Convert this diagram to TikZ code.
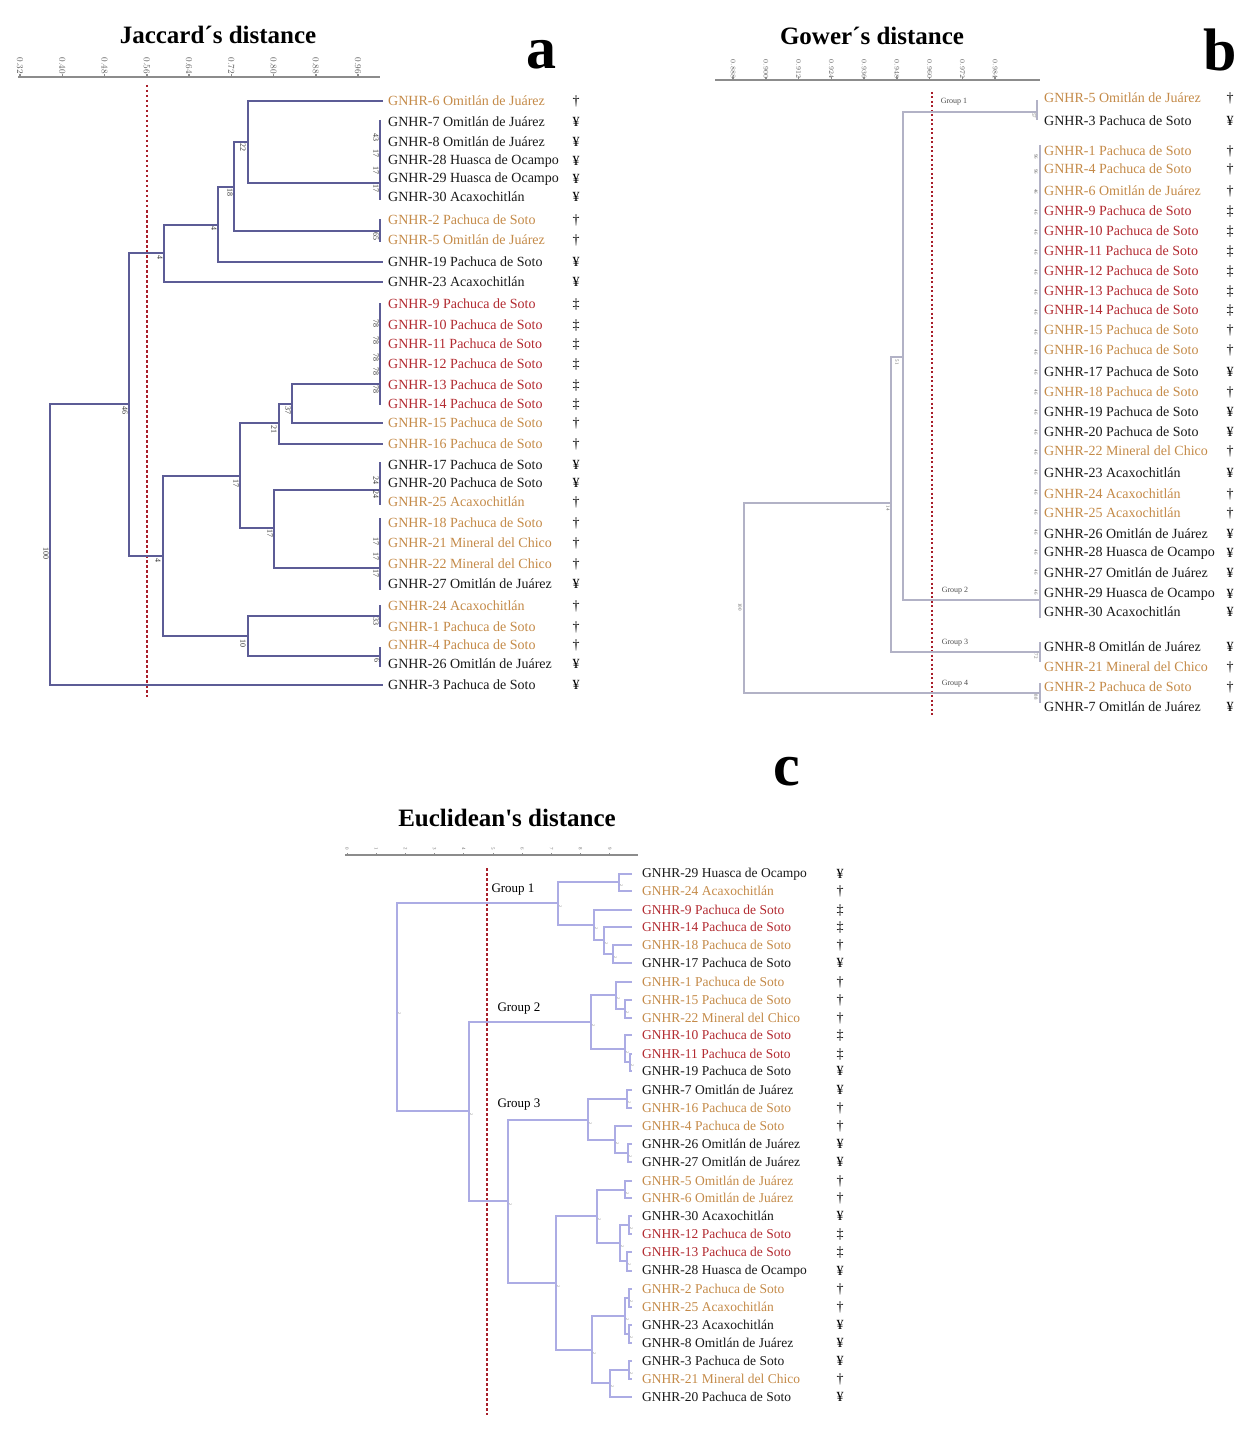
\documentclass[tikz,border=0pt]{standalone}
\usepackage{fontspec}
\setmainfont{Liberation Serif}
\definecolor{tanc}{RGB}{196,138,72}
\definecolor{redc}{RGB}{178,42,48}
\definecolor{blkc}{RGB}{25,25,25}
\definecolor{linea}{RGB}{92,92,150}
\definecolor{lineb}{RGB}{178,178,198}
\definecolor{linec}{RGB}{172,172,228}
\definecolor{cutc}{RGB}{168,30,42}
\definecolor{axisc}{RGB}{140,140,140}
\tikzset{
  leafa/.style={anchor=west, inner xsep=5pt, inner ysep=0pt, font=\fontsize{14}{16}\selectfont},
  leafb/.style={anchor=west, inner xsep=4pt, inner ysep=0pt, font=\fontsize{14}{16}\selectfont},
  leafc/.style={anchor=west, inner xsep=10pt, inner ysep=0pt, font=\fontsize{13.5}{15}\selectfont},
  symb/.style={inner sep=0pt, font=\fontsize{14}{16}\selectfont},
  boota/.style={rotate=-90, inner sep=0pt, text=black!80, font=\fontsize{8}{8}\selectfont},
  bootb/.style={rotate=-90, inner sep=0pt, text=black!60, font=\fontsize{5}{5}\selectfont},
  bootc/.style={rotate=-90, inner sep=0pt, text=black!50, font=\fontsize{4}{4}\selectfont},
  ticka/.style={rotate=-90, inner sep=0pt, text=black!65, font=\fontsize{9}{9}\selectfont},
  tickb/.style={rotate=-90, inner sep=0pt, text=black!65, font=\fontsize{7}{7}\selectfont},
  tickc/.style={rotate=-90, inner sep=0pt, text=black!55, font=\fontsize{5}{5}\selectfont},
  brancha/.style={linea, line width=1.2pt},
  branchb/.style={lineb, line width=1.2pt},
  branchc/.style={linec, line width=1.2pt},
  cutline/.style={cutc, line width=1.8pt, dash pattern=on 2.5pt off 2.5pt},
  axisline/.style={axisc, line width=1.5pt},
  ttl/.style={font=\fontsize{25}{28}\selectfont\bfseries},
  panelltr/.style={font=\fontsize{60}{60}\selectfont\bfseries},
  grpb/.style={inner sep=0pt, text=black!70, font=\fontsize{8}{8}\selectfont},
  grpc/.style={inner sep=0pt, font=\fontsize{13}{13}\selectfont}
}
\begin{document}
\begin{tikzpicture}[x=1pt,y=-1pt]
\useasboundingbox (0,0) rectangle (1257,1442);
% panel a
\node[ttl] (ttla) at (218,35) {Jaccard´s distance};
\node[panelltr] (lta) at (541,55) {a};
\draw[axisline] (18,77) -- (380,77);
\foreach \i in {0,...,8} {
  \pgfmathsetmacro\xx{20+42.25*\i}
  \pgfmathsetmacro\vv{0.32+0.08*\i}
  \node[ticka] (tka\i) at (\xx,66) {\pgfmathprintnumber[fixed,precision=2,fixed zerofill]{\vv}};
  \draw[axisline] (\xx,74) -- (\xx,77);
}
\draw[cutline] (147,85) -- (147,697);
\foreach \y/\nm/\txt/\col/\sym in {
  101/a6/{GNHR-6 Omitlán de Juárez}/tanc/†, 122/a7/{GNHR-7 Omitlán de Juárez}/blkc/¥,
  142/a8/{GNHR-8 Omitlán de Juárez}/blkc/¥, 161/a28/{GNHR-28 Huasca de Ocampo}/blkc/¥,
  179/a29/{GNHR-29 Huasca de Ocampo}/blkc/¥, 197/a30/{GNHR-30 Acaxochitlán}/blkc/¥,
  220/a2/{GNHR-2 Pachuca de Soto}/tanc/†, 240/a5/{GNHR-5 Omitlán de Juárez}/tanc/†,
  262/a19/{GNHR-19 Pachuca de Soto}/blkc/¥, 282/a23/{GNHR-23 Acaxochitlán}/blkc/¥,
  304/a9/{GNHR-9 Pachuca de Soto}/redc/‡, 325/a10/{GNHR-10 Pachuca de Soto}/redc/‡,
  344/a11/{GNHR-11 Pachuca de Soto}/redc/‡, 364/a12/{GNHR-12 Pachuca de Soto}/redc/‡,
  385/a13/{GNHR-13 Pachuca de Soto}/redc/‡, 404/a14/{GNHR-14 Pachuca de Soto}/redc/‡,
  423/a15/{GNHR-15 Pachuca de Soto}/tanc/†, 444/a16/{GNHR-16 Pachuca de Soto}/tanc/†,
  465/a17/{GNHR-17 Pachuca de Soto}/blkc/¥, 483/a20/{GNHR-20 Pachuca de Soto}/blkc/¥,
  502/a25/{GNHR-25 Acaxochitlán}/tanc/†, 523/a18/{GNHR-18 Pachuca de Soto}/tanc/†,
  543/a21/{GNHR-21 Mineral del Chico}/tanc/†, 564/a22/{GNHR-22 Mineral del Chico}/tanc/†,
  584/a27/{GNHR-27 Omitlán de Juárez}/blkc/¥, 606/a24/{GNHR-24 Acaxochitlán}/tanc/†,
  627/a1/{GNHR-1 Pachuca de Soto}/tanc/†, 645/a4/{GNHR-4 Pachuca de Soto}/tanc/†,
  664/a26/{GNHR-26 Omitlán de Juárez}/blkc/¥, 685/a3/{GNHR-3 Pachuca de Soto}/blkc/¥}
{
  \node[leafa,text=\col] (\nm) at (383,\y) {\txt};
  \node[symb] (s\nm) at (576,\y) {\sym};
}
\foreach \nm/\t/\b/\m in {ka/120/200/183, kb/219/242/231, kc/303/405/384, kd/462/505/490,
  ke/518/590/568, kf/605/627/616, kg/647/667/656}
{
  \coordinate (\nm) at (380,\m);
  \draw[brancha] (380,\t) -- (380,\b);
}
\foreach \p/\x/\y/\u/\v in {n22/248/142/a6.west/ka, n18/234/187/n22/kb, n4b/218/225/n18/a19.west,
  n4a/164/253/n4b/a23.west, n37/292/404/kc/a15.west, n21/279/423/n37/a16.west,
  n17b/274/528/kd/ke, n17a/240/476/n21/n17b, n10/248/636/kf/kg, n4c/163/556/n17a/n10,
  n46/129/404/n4a/n4c, ra/50/545/n46/a3.west}
{
  \coordinate (\p) at (\x,\y);
  \draw[brancha] (\u) -| (\p) |- (\v);
}
\foreach \x/\y/\v [count=\i] in {46/553/100, 125/410/46, 160/257/4, 214/228/4, 230/193/18,
  243/148/22, 376/138/43, 376/154/17, 376/171/17, 376/189/17, 376/237/65, 376/323/78,
  376/340/78, 376/357/78, 376/371/78, 376/389/78, 288/410/37, 274/429/21, 236/483/17,
  270/533/17, 376/480/24, 376/494/24, 376/541/17, 376/556/17, 376/573/17, 158/560/4,
  243/643/10, 376/621/33, 377/660/6}
  \node[boota] (bta\i) at (\x,\y) {\v};
% panel b
\node[ttl] (ttlb) at (872,36) {Gower´s distance};
\node[panelltr] (ltb) at (1220,50) {b};
\draw[axisline] (715,80) -- (1040,80);
\foreach \i in {0,...,8} {
  \pgfmathsetmacro\xx{733+32.75*\i}
  \pgfmathsetmacro\vv{0.888+0.012*\i}
  \node[tickb] (tkb\i) at (\xx,69) {\pgfmathprintnumber[fixed,precision=3,fixed zerofill]{\vv}};
  \draw[axisline] (\xx,77) -- (\xx,80);
}
\draw[cutline,line width=1.2pt,dash pattern=on 2pt off 2.5pt] (932,92) -- (932,715);
\foreach \y/\nm/\txt/\col/\sym in {
  98/b5/{GNHR-5 Omitlán de Juárez}/tanc/†, 121/b3/{GNHR-3 Pachuca de Soto}/blkc/¥,
  151/b1/{GNHR-1 Pachuca de Soto}/tanc/†, 169/b4/{GNHR-4 Pachuca de Soto}/tanc/†,
  191/b6/{GNHR-6 Omitlán de Juárez}/tanc/†, 211/b9/{GNHR-9 Pachuca de Soto}/redc/‡,
  231/b10/{GNHR-10 Pachuca de Soto}/redc/‡, 251/b11/{GNHR-11 Pachuca de Soto}/redc/‡,
  271/b12/{GNHR-12 Pachuca de Soto}/redc/‡, 291/b13/{GNHR-13 Pachuca de Soto}/redc/‡,
  310/b14/{GNHR-14 Pachuca de Soto}/redc/‡, 330/b15/{GNHR-15 Pachuca de Soto}/tanc/†,
  350/b16/{GNHR-16 Pachuca de Soto}/tanc/†, 372/b17/{GNHR-17 Pachuca de Soto}/blkc/¥,
  392/b18/{GNHR-18 Pachuca de Soto}/tanc/†, 412/b19/{GNHR-19 Pachuca de Soto}/blkc/¥,
  432/b20/{GNHR-20 Pachuca de Soto}/blkc/¥, 451/b22/{GNHR-22 Mineral del Chico}/tanc/†,
  473/b23/{GNHR-23 Acaxochitlán}/blkc/¥, 494/b24/{GNHR-24 Acaxochitlán}/tanc/†,
  513/b25/{GNHR-25 Acaxochitlán}/tanc/†, 534/b26/{GNHR-26 Omitlán de Juárez}/blkc/¥,
  553/b28/{GNHR-28 Huasca de Ocampo}/blkc/¥, 573/b27/{GNHR-27 Omitlán de Juárez}/blkc/¥,
  594/b29/{GNHR-29 Huasca de Ocampo}/blkc/¥, 612/b30/{GNHR-30 Acaxochitlán}/blkc/¥,
  647/b8/{GNHR-8 Omitlán de Juárez}/blkc/¥, 667/b21/{GNHR-21 Mineral del Chico}/tanc/†,
  687/b2/{GNHR-2 Pachuca de Soto}/tanc/†, 707/b7/{GNHR-7 Omitlán de Juárez}/blkc/¥}
{
  \node[leafb,text=\col] (\nm) at (1040,\y) {\txt};
  \node[symb] (s\nm) at (1230,\y) {\sym};
}
\foreach \nm/\x/\t/\b/\m in {kb1/1037/100/120/112, kb2/1040/145/618/600, kb3/1040/642/662/652,
  kb4/1040/683/703/693}
{
  \coordinate (\nm) at (\x,\m);
  \draw[branchb] (\x,\t) -- (\x,\b);
}
\foreach \p/\x/\y/\u/\v in {nb51/903/357/kb1/kb2, nb14/891/503/nb51/kb3, rb/744/600/nb14/kb4}
{
  \coordinate (\p) at (\x,\y);
  \draw[branchb] (\u) -| (\p) |- (\v);
}
\foreach \x/\y/\v [count=\i] in {897/362/51, 888/508/14, 740/607/100, 1034/116/57,
  1036/656/72, 1036/697/88}
  \node[bootb] (btb\i) at (\x,\y) {\v};
\foreach \y/\v [count=\i] in {157/96, 172/96, 192/46, 212/46, 232/46, 252/46, 272/46, 292/46,
  312/46, 332/46, 352/46, 372/46, 392/46, 412/46, 432/46, 452/46, 472/46, 492/46, 512/46,
  532/46, 552/46, 572/46, 592/46}
  \node[bootb] (bgb\i) at (1036,\y) {\v};
\node[grpb] (gb1) at (954,102) {Group 1};
\node[grpb] (gb2) at (955,591) {Group 2};
\node[grpb] (gb3) at (955,643) {Group 3};
\node[grpb] (gb4) at (955,684) {Group 4};
% panel c
\node[ttl] (ttlc) at (507,818) {Euclidean\textquotesingle s distance};
\node[panelltr] (ltc) at (787,772) {c};
\draw[axisline] (345,855) -- (638,855);
\foreach \i in {0,...,9} {
  \pgfmathsetmacro\xx{347+29.2*\i}
  \node[tickc] (tkc\i) at (\xx,849) {\i};
  \draw[axisline,line width=1pt] (\xx,853) -- (\xx,855);
}
\draw[cutline,line width=1.4pt,dash pattern=on 2.5pt off 2.5pt] (487,868) -- (487,1415);
\foreach \y/\nm/\txt/\col/\sym in {
  874/c29/{GNHR-29 Huasca de Ocampo}/blkc/¥, 891/c24/{GNHR-24 Acaxochitlán}/tanc/†,
  910/c9/{GNHR-9 Pachuca de Soto}/redc/‡, 927/c14/{GNHR-14 Pachuca de Soto}/redc/‡,
  945/c18/{GNHR-18 Pachuca de Soto}/tanc/†, 963/c17/{GNHR-17 Pachuca de Soto}/blkc/¥,
  982/c1/{GNHR-1 Pachuca de Soto}/tanc/†, 1000/c15/{GNHR-15 Pachuca de Soto}/tanc/†,
  1018/c22/{GNHR-22 Mineral del Chico}/tanc/†, 1035/c10/{GNHR-10 Pachuca de Soto}/redc/‡,
  1054/c11/{GNHR-11 Pachuca de Soto}/redc/‡, 1071/c19/{GNHR-19 Pachuca de Soto}/blkc/¥,
  1090/c7/{GNHR-7 Omitlán de Juárez}/blkc/¥, 1108/c16/{GNHR-16 Pachuca de Soto}/tanc/†,
  1126/c4/{GNHR-4 Pachuca de Soto}/tanc/†, 1144/c26/{GNHR-26 Omitlán de Juárez}/blkc/¥,
  1162/c27/{GNHR-27 Omitlán de Juárez}/blkc/¥, 1181/c5/{GNHR-5 Omitlán de Juárez}/tanc/†,
  1198/c6/{GNHR-6 Omitlán de Juárez}/tanc/†, 1216/c30/{GNHR-30 Acaxochitlán}/blkc/¥,
  1234/c12/{GNHR-12 Pachuca de Soto}/redc/‡, 1252/c13/{GNHR-13 Pachuca de Soto}/redc/‡,
  1271/c28/{GNHR-28 Huasca de Ocampo}/blkc/¥, 1289/c2/{GNHR-2 Pachuca de Soto}/tanc/†,
  1307/c25/{GNHR-25 Acaxochitlán}/tanc/†, 1325/c23/{GNHR-23 Acaxochitlán}/blkc/¥,
  1343/c8/{GNHR-8 Omitlán de Juárez}/blkc/¥, 1361/c3/{GNHR-3 Pachuca de Soto}/blkc/¥,
  1379/c21/{GNHR-21 Mineral del Chico}/tanc/†, 1397/c20/{GNHR-20 Pachuca de Soto}/blkc/¥}
{
  \node[leafc,text=\col] (\nm) at (632,\y) {\txt};
  \node[symb] (s\nm) at (840,\y) {\sym};
}
\foreach \p/\x/\y/\u/\v in {p1/619/882/c29.west/c24.west, p2/613/954/c18.west/c17.west,
  p3/604/940/c14.west/p2, p4/594/925/c9.west/p3, g1/558/903/p1/p4,
  p5/625/1009/c15.west/c22.west, p6/616/995/c1.west/p5, p7/630/1062/c11.west/c19.west,
  p8/625/1049/c10.west/p7, g2/591/1022/p6/p8, p9/627/1099/c7.west/c16.west,
  p10/628/1153/c26.west/c27.west, p11/615/1140/c4.west/p10, p12/588/1120/p9/p11,
  p13/625/1190/c5.west/c6.west, p14/629/1225/c30.west/c12.west, p15/627/1261/c13.west/c28.west,
  p16/620/1243/p14/p15, p17/597/1216/p13/p16, p18/629/1298/c2.west/c25.west,
  p19/629/1334/c23.west/c8.west, p20/625/1316/p18/p19, p21/629/1370/c3.west/c21.west,
  p22/610/1383/p21/c20.west, p23/592/1350/p20/p22, p24/556/1283/p17/p23, g3/508/1201/p12/p24,
  p25/469/1111/g2/g3, rc/397/1010/g1/p25}
{
  \coordinate (\p) at (\x,\y);
  \draw[branchc] (\u) -| (\p) |- (\v);
  \node[bootc] (bt\p) at (\x+2.5,\y+3) {2};
}
\node[grpc] (gc1) at (513,890) {Group 1};
\node[grpc] (gc2) at (519,1009) {Group 2};
\node[grpc] (gc3) at (519,1105) {Group 3};
\end{tikzpicture}
\end{document}
